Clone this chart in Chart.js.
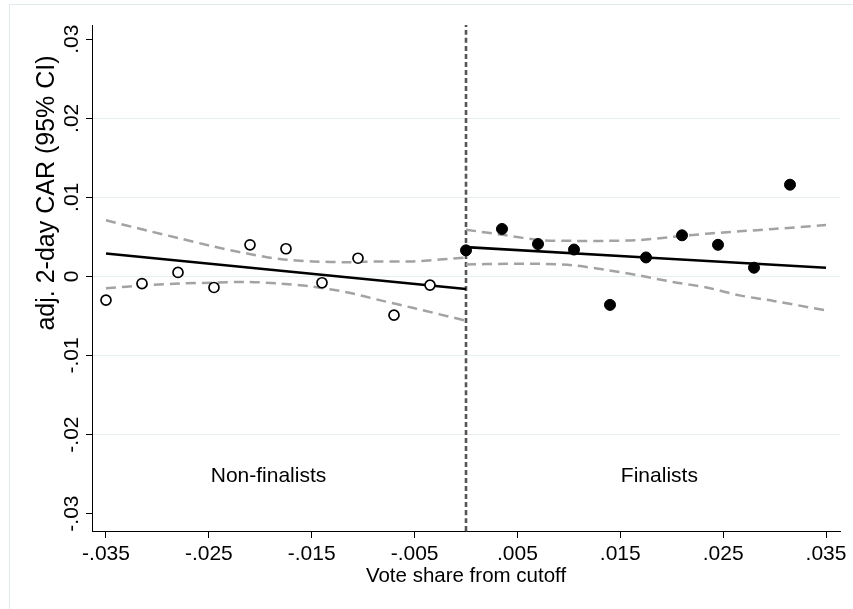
<!DOCTYPE html>
<html>
<head>
<meta charset="utf-8">
<script src="https://cdn.jsdelivr.net/npm/chart.js@4.4.0/dist/chart.umd.min.js"></script>
<style>
  html, body { margin: 0; padding: 0; background: #fff; }
  canvas { display: block; }
</style>
</head>
<body>
<canvas id="rd" width="853" height="609"></canvas>
<script>
// tick values
const xTicks = [-0.035, -0.025, -0.015, -0.005, 0.005, 0.015, 0.025, 0.035];
const yTicks = [-0.03, -0.02, -0.01, 0, 0.01, 0.02, 0.03];

// bin means, left of cutoff (non-finalists) and right (finalists)
const binsLeft = [-0.035, -0.0315, -0.028, -0.0245, -0.021, -0.0175, -0.014, -0.0105, -0.007, -0.0035];
const meansLeft = [-0.0030, -0.0009, 0.0005, -0.0014, 0.0040, 0.0035, -0.0008, 0.0023, -0.0049, -0.0011];
const binsRight = [0, 0.0035, 0.007, 0.0105, 0.014, 0.0175, 0.021, 0.0245, 0.028, 0.0315];
const meansRight = [0.0033, 0.0060, 0.0041, 0.0034, -0.0036, 0.0024, 0.0052, 0.0040, 0.0011, 0.0116];

// linear fits
const fitLeftX = [-0.035, 0];
const fitLeftY = [0.0029, -0.0016];
const fitRightX = [0, 0.035];
const fitRightY = [0.0037, 0.0011];

// 95% CI bands
const ciLeftX = [-0.035, -0.031, -0.0278, -0.0246, -0.0213, -0.0181, -0.0149, -0.0116, -0.0084, -0.0051, 0];
const ciLeftUpper = [0.0071, 0.0058, 0.0048, 0.0038, 0.0029, 0.0022, 0.0019, 0.0018, 0.0019, 0.0019, 0.0024];
const ciLeftLower = [-0.0015, -0.0011, -0.0009, -0.0008, -0.0007, -0.0009, -0.0013, -0.0020, -0.0030, -0.0040, -0.0056];
const ciRightX = [0, 0.0039, 0.0072, 0.0104, 0.0137, 0.0169, 0.0201, 0.0234, 0.0266, 0.0299, 0.035];
const ciRightUpper = [0.0059, 0.0052, 0.0046, 0.0045, 0.0045, 0.0046, 0.0050, 0.0054, 0.0057, 0.0060, 0.0065];
const ciRightLower = [0.0015, 0.0016, 0.0016, 0.0014, 0.0008, 0.0001, -0.0007, -0.0014, -0.0024, -0.0031, -0.0043];

const yMin = -0.0322, yMax = 0.0318;
const xMin = -0.03636, xMax = 0.03636;

const pts = (xs, ys) => xs.map((x, i) => ({ x: x, y: ys[i] }));
// stata style: drop the leading zero
const fmt = (v, d) => v === 0 ? '0' : v.toFixed(d).replace('0.', '.');

const FONT = '"Liberation Sans", Arial, sans-serif';

const lineSet = (data, color, width, dash) => ({
    data: data,
    showLine: true,
    borderColor: color,
    borderWidth: width,
    borderDash: dash,
    pointRadius: 0,
    tension: 0.3,
    fill: false,
});

const extras = {
    id: 'extras',
    beforeDraw(chart) {
        const ctx = chart.ctx;
        ctx.save();
        ctx.fillStyle = '#fff';
        ctx.fillRect(0, 0, chart.width, chart.height);
        ctx.strokeStyle = '#e2e9ed';
        ctx.lineWidth = 1;
        ctx.strokeRect(9.5, 4.5, chart.width + 20, chart.height + 20);
        ctx.restore();
    },
    afterDraw(chart) {
        const { ctx, chartArea } = chart;
        const { x, y } = chart.scales;
        ctx.save();
        ctx.fillStyle = '#000';
        ctx.font = '21px ' + FONT;
        ctx.textAlign = 'center';
        ctx.textBaseline = 'middle';
        // rotated y tick labels
        yTicks.forEach(v => {
            ctx.save();
            ctx.translate(chartArea.left - 20, y.getPixelForValue(v));
            ctx.rotate(-Math.PI / 2);
            ctx.fillText(fmt(v, 2), 0, 0);
            ctx.restore();
        });
        // group labels
        ctx.fillText('Non-finalists', x.getPixelForValue(-0.0192), y.getPixelForValue(-0.0253));
        ctx.fillText('Finalists', x.getPixelForValue(0.0188), y.getPixelForValue(-0.0253));
        // y axis title
        ctx.font = '25px ' + FONT;
        ctx.save();
        ctx.translate(chartArea.left - 45, 193);
        ctx.rotate(-Math.PI / 2);
        ctx.fillText('adj. 2-day CAR (95% CI)', 0, 0);
        ctx.restore();
        ctx.restore();
    }
};

new Chart(document.getElementById('rd').getContext('2d'), {
    type: 'scatter',
    data: {
        datasets: [
            {
                data: pts(binsRight, meansRight),
                pointRadius: 5.5,
                pointBackgroundColor: '#000',
                pointBorderColor: '#000',
                pointBorderWidth: 1,
            },
            {
                data: pts(binsLeft, meansLeft),
                pointRadius: 5,
                pointBackgroundColor: '#fff',
                pointBorderColor: '#000',
                pointBorderWidth: 1.7,
            },
            lineSet(pts(fitLeftX, fitLeftY), '#000', 2.6, []),
            lineSet(pts(fitRightX, fitRightY), '#000', 2.6, []),
            lineSet(pts(ciLeftX, ciLeftUpper), '#a3a3a3', 2.5, [10, 6]),
            lineSet(pts(ciLeftX, ciLeftLower), '#a3a3a3', 2.5, [10, 6]),
            lineSet(pts(ciRightX, ciRightUpper), '#a3a3a3', 2.5, [10, 6]),
            lineSet(pts(ciRightX, ciRightLower), '#a3a3a3', 2.5, [10, 6]),
            // cutoff line
            lineSet([{ x: 0, y: yMin }, { x: 0, y: yMax }], '#555', 2.6, [5, 3]),
        ]
    },
    options: {
        responsive: false,
        animation: false,
        devicePixelRatio: 1,
        layout: { padding: { top: 25, right: 13, left: 0, bottom: 0 } },
        plugins: {
            legend: { display: false },
            tooltip: { enabled: false },
        },
        scales: {
            x: {
                type: 'linear',
                min: xMin,
                max: xMax,
                afterBuildTicks: s => { s.ticks = xTicks.map(v => ({ value: v })); },
                afterFit: s => { s.height = 78; },
                grid: { drawOnChartArea: false, tickLength: 7, tickColor: '#000', tickWidth: 1 },
                border: { color: '#000', width: 1 },
                ticks: {
                    color: '#000',
                    font: { size: 21, family: FONT },
                    padding: 4,
                    maxRotation: 0,
                    callback: v => fmt(v, 3),
                },
                title: {
                    display: true,
                    text: 'Vote share from cutoff',
                    color: '#000',
                    font: { size: 20.5, family: FONT },
                    padding: { top: 0, bottom: 20 },
                },
            },
            y: {
                type: 'linear',
                min: yMin,
                max: yMax,
                afterBuildTicks: s => { s.ticks = yTicks.map(v => ({ value: v })); },
                afterFit: s => { s.width = 92; },
                grid: {
                    color: c => Math.abs(c.tick.value) > 0.025 ? 'rgba(0,0,0,0)' : '#e6eef1',
                    lineWidth: 1,
                    tickLength: 6,
                    tickColor: '#000',
                },
                border: { color: '#000', width: 1 },
                ticks: { display: false },
            },
        },
    },
    plugins: [extras],
});
</script>
</body>
</html>
